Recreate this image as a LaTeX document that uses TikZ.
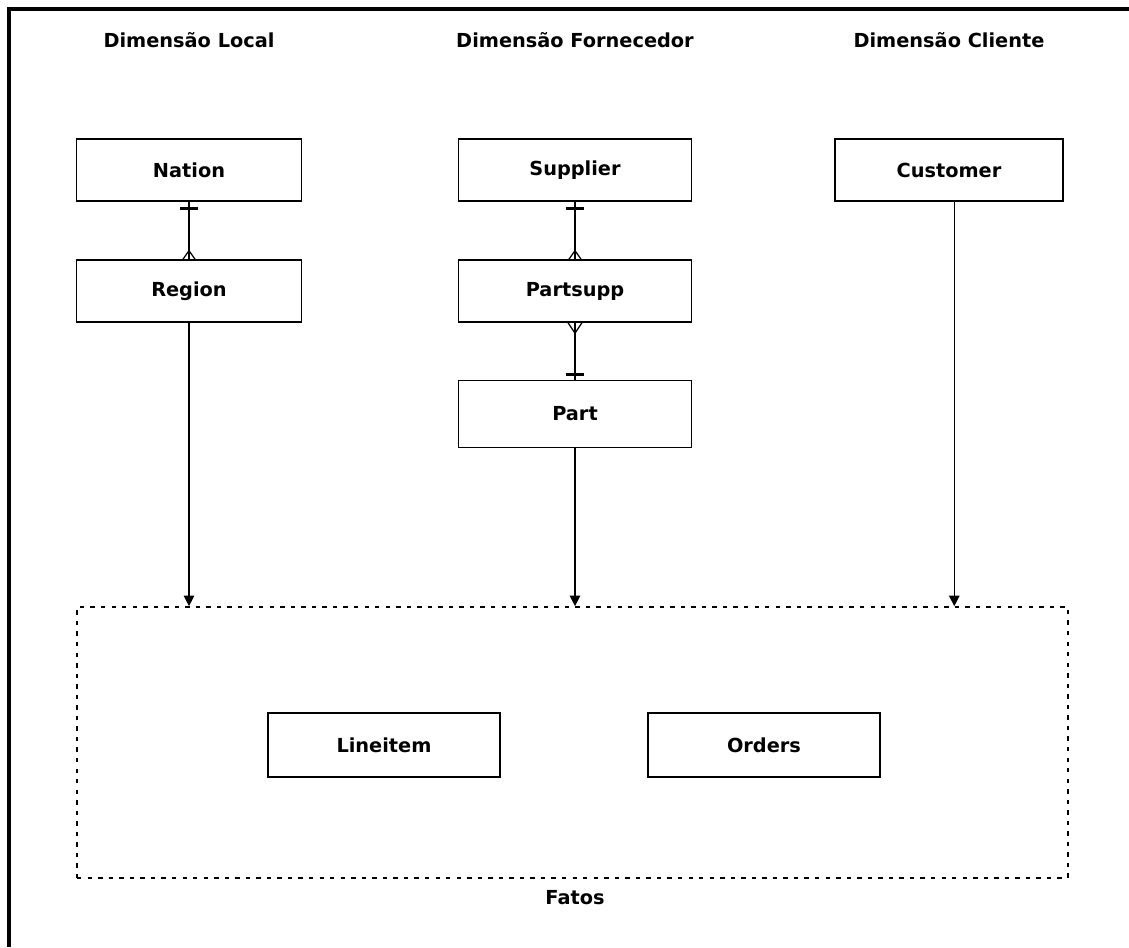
\documentclass[tikz,border=0pt]{standalone}
\usepackage{fontspec}
\setmainfont{DejaVu Sans}
\usetikzlibrary{arrows.meta}
\tikzset{
  tabela/.style={draw, line width=0.7pt, minimum width=4.5cm, minimum height=1.24cm,
    font=\fontsize{11}{13}\selectfont\bfseries},
  titulo/.style={font=\fontsize{11}{13}\selectfont\bfseries},
  seta/.style={line width=0.7pt, -{Triangle[width=6pt,length=6pt]}},
  liga/.style={line width=0.7pt},
  barra/.style={line width=1.4pt},
}
\begin{document}
\begin{tikzpicture}[x=0.02cm, y=-0.02cm]
  \useasboundingbox (0,0) rectangle (1129,947);
  \draw[line width=2.2pt] (9,947) -- (9,9) -- (1129,9); % moldura
  % cabecalhos
  \node[titulo] (hlocal) at (189,40) {Dimensão Local};
  \node[titulo] (hforn) at (575,40) {Dimensão Fornecedor};
  \node[titulo] (hcli) at (949,40) {Dimensão Cliente};
  % tabelas de dimensao
  \node[tabela] (nation) at (189,170) {Nation};
  \node[tabela] (region) at (189,291) {Region};
  \node[tabela, minimum width=4.66cm] (supplier) at (575,170) {Supplier};
  \node[tabela, minimum width=4.66cm] (partsupp) at (575,291) {Partsupp};
  \node[tabela, minimum width=4.66cm, minimum height=1.34cm] (part) at (575,414) {Part};
  \node[tabela, minimum width=4.56cm] (customer) at (949,170) {Customer};
  % fatos
  \node[draw, line width=1pt, dash pattern=on 2.5pt off 3.5pt,
    minimum width=19.82cm, minimum height=5.42cm] (fatos) at (572.5,742.5) {};
  \node[titulo, below=0pt] (lfatos) at (575,884) {Fatos};
  \node[tabela, minimum width=4.64cm, minimum height=1.28cm] (lineitem) at (384,745) {Lineitem};
  \node[tabela, minimum width=4.64cm, minimum height=1.28cm] (orders) at (764,745) {Orders};
  % relacionamentos
  \draw[liga] (nation) -- (region);
  \draw[barra] ([xshift=-5pt,yshift=-4pt]nation.south) -- ++(10pt,0);
  \draw[liga] ([yshift=5pt]region.north) -- ([xshift=-3.5pt]region.north)
              ([yshift=5pt]region.north) -- ([xshift=3.5pt]region.north);
  \draw[liga] (supplier) -- (partsupp);
  \draw[barra] ([xshift=-5pt,yshift=-4pt]supplier.south) -- ++(10pt,0);
  \draw[liga] ([yshift=5pt]partsupp.north) -- ([xshift=-3.5pt]partsupp.north)
              ([yshift=5pt]partsupp.north) -- ([xshift=3.5pt]partsupp.north);
  \draw[liga] (partsupp) -- (part);
  \draw[liga] ([yshift=-6pt]partsupp.south) -- ([xshift=-4pt]partsupp.south)
              ([yshift=-6pt]partsupp.south) -- ([xshift=4pt]partsupp.south);
  \draw[barra] ([xshift=-5pt,yshift=3pt]part.north) -- ++(10pt,0);
  % setas para os fatos
  \draw[seta] (region.south) -- (region.south |- fatos.north);
  \draw[seta] (part.south) -- (part.south |- fatos.north);
  \draw[seta] ([xshift=3pt]customer.south) -- ([xshift=3pt]customer.south |- fatos.north);
\end{tikzpicture}
\end{document}
